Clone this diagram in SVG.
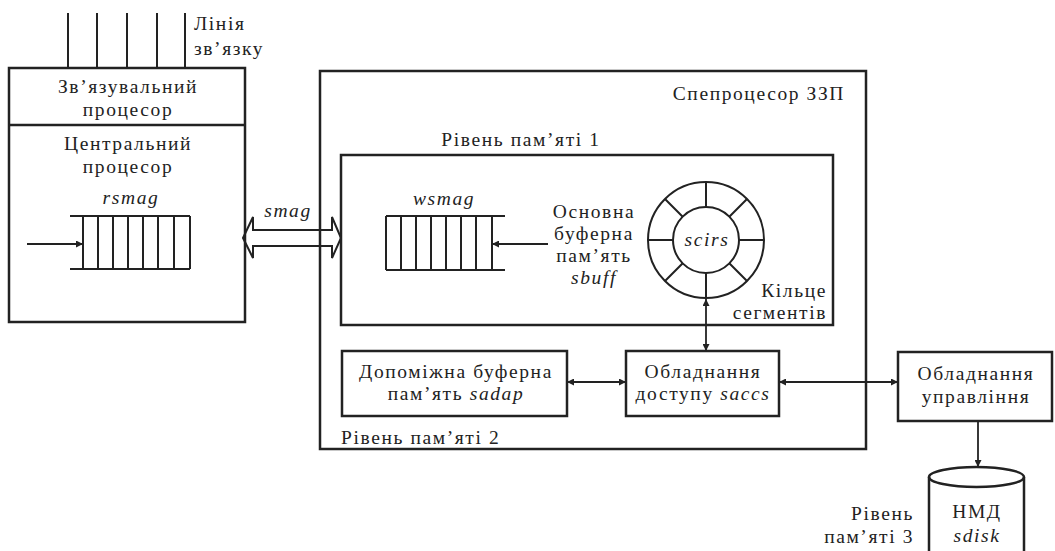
<svg xmlns="http://www.w3.org/2000/svg" width="1055" height="551" viewBox="0 0 1055 551" font-family="'Liberation Serif', 'DejaVu Serif', serif">
<defs>
<marker id="ah" viewBox="0 0 10 10" refX="10" refY="5" markerWidth="9" markerHeight="7" markerUnits="userSpaceOnUse" orient="auto-start-reverse">
<path d="M0,0 L10,5 L0,10 Z" fill="#222"/>
</marker>
<style>
text{font-size:19.5px;letter-spacing:1.6px;fill:#222}
.it{font-style:italic}
.m{text-anchor:middle}
.e{text-anchor:end}
.box{fill:none;stroke:#222;stroke-width:2.5}
.ln{fill:none;stroke:#222;stroke-width:2}
.ar{fill:none;stroke:#222;stroke-width:1.8}
</style>
</defs>
<rect width="1055" height="551" fill="#fff"/>

<g id="link-lines">
<path class="ln" d="M68,13V68M97,13V68M127,13V68M157,13V68M185,13V68"/>
<text x="194" y="30">Лінія</text>
<text x="194" y="55">зв’язку</text>
</g>

<g id="cpu">
<rect class="box" x="9" y="68" width="236" height="254"/>
<line class="box" x1="9" y1="125" x2="245" y2="125"/>
<text class="m" x="128" y="93">Зв’язувальний</text>
<text class="m" x="128" y="116">процесор</text>
<text class="m" x="128" y="150">Центральний</text>
<text class="m" x="128" y="173">процесор</text>
</g>

<g id="rsmag">
<text class="m it" x="131" y="204">rsmag</text>
<path class="ln" d="M70,216H190M70,269H190M83,216V269M98,216V269M113,216V269M128,216V269M143,216V269M158,216V269M174,216V269M190,216V269"/>
</g>

<g id="spp">
<rect class="box" x="320" y="71" width="546" height="378"/>
<text class="e" x="845" y="100">Спепроцесор ЗЗП</text>
<text x="341" y="444">Рівень пам’яті 2</text>
</g>

<g id="level1">
<rect class="box" x="341" y="155" width="492" height="170"/>
<text class="m" x="521" y="146">Рівень пам’яті 1</text>
</g>

<g id="wsmag">
<text class="m it" x="444" y="205">wsmag</text>
<path class="ln" d="M386,216H505M386,270H505M386,216V270M401,216V270M416,216V270M431,216V270M446,216V270M461,216V270M476,216V270M492,216V270"/>
</g>

<g id="sbuff">
<text class="m" x="594" y="218">Основна</text>
<text class="m" x="594" y="240">буферна</text>
<text class="m" x="594" y="262">пам’ять</text>
<text class="m it" x="594" y="284">sbuff</text>
</g>

<g id="scirs">
<circle class="ln" cx="706" cy="240" r="58"/>
<circle class="ln" cx="706" cy="240" r="33"/>
<path class="ln" d="M706,207V182M706,273V298M673,240H648M739,240H764M729.3,216.7L747,199M682.7,216.7L665,199M729.3,263.3L747,281M682.7,263.3L665,281"/>
<text class="m it" x="707" y="246">scirs</text>
<text class="e" x="827" y="297">Кільце</text>
<text class="e" x="827" y="319">сегментів</text>
</g>

<g id="sadap">
<rect class="box" x="342" y="351" width="225" height="65"/>
<text class="m" x="456" y="378">Допоміжна буферна</text>
<text class="m" x="456" y="400">пам’ять <tspan class="it">sadap</tspan></text>
</g>

<g id="saccs">
<rect class="box" x="626" y="351" width="153" height="65"/>
<text class="m" x="703" y="378">Обладнання</text>
<text class="m" x="703" y="400">доступу <tspan class="it">saccs</tspan></text>
</g>

<g id="control">
<rect class="box" x="898" y="352" width="154" height="69"/>
<text class="m" x="976" y="380">Обладнання</text>
<text class="m" x="976" y="403">управління</text>
</g>

<g id="sdisk">
<path class="box" d="M929,477V560M1024,477V560"/>
<ellipse class="box" cx="976.5" cy="477" rx="47.5" ry="10"/>
<text class="m" x="977" y="518">НМД</text>
<text class="m it" x="977" y="542">sdisk</text>
<text class="e" x="914" y="520">Рівень</text>
<text class="e" x="914" y="543">пам’яті 3</text>
</g>

<g id="connectors">
<line class="ar" x1="27" y1="244" x2="83" y2="244" marker-end="url(#ah)"/>
<line class="ar" x1="548" y1="244" x2="492" y2="244" marker-end="url(#ah)"/>
<path class="ln" d="M243,238L253,217V230H332V217L341,238L332,258V246H253V258Z"/>
<text class="m it" x="288" y="217">smag</text>
<line class="ar" x1="706" y1="299" x2="706" y2="351" marker-start="url(#ah)" marker-end="url(#ah)"/>
<line class="ar" x1="567" y1="382" x2="626" y2="382" marker-start="url(#ah)" marker-end="url(#ah)"/>
<line class="ar" x1="779" y1="382" x2="898" y2="382" marker-start="url(#ah)" marker-end="url(#ah)"/>
<line class="ar" x1="978" y1="421" x2="978" y2="467" marker-end="url(#ah)"/>
</g>
</svg>
